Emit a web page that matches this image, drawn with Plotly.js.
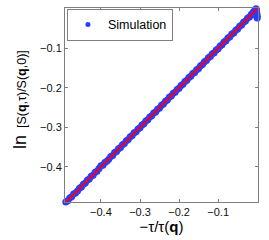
<!DOCTYPE html>
<html><head><meta charset="utf-8">
<script src="https://cdn.plot.ly/plotly-3.0.1.min.js"></script>
<style>html,body{margin:0;padding:0;background:#fff}#c{width:269px;height:240px}</style>
</head><body><div id="c"></div>
<script>
var simX = [-0.490,-0.485,-0.480,-0.475,-0.470,-0.465,-0.460,-0.455,-0.450,-0.445,-0.440,-0.435,-0.430,-0.425,-0.420,-0.415,-0.410,-0.405,-0.400,-0.395,-0.390,-0.385,-0.380,-0.375,-0.370,-0.365,-0.360,-0.355,-0.350,-0.345,-0.340,-0.335,-0.330,-0.325,-0.320,-0.315,-0.310,-0.305,-0.300,-0.295,-0.290,-0.285,-0.280,-0.275,-0.270,-0.265,-0.260,-0.255,-0.250,-0.245,-0.240,-0.235,-0.230,-0.225,-0.220,-0.215,-0.210,-0.205,-0.200,-0.195,-0.190,-0.185,-0.180,-0.175,-0.170,-0.165,-0.160,-0.155,-0.150,-0.145,-0.140,-0.135,-0.130,-0.125,-0.120,-0.115,-0.110,-0.105,-0.100,-0.095,-0.090,-0.085,-0.080,-0.075,-0.070,-0.065,-0.060,-0.055,-0.050,-0.045,-0.040,-0.035,-0.030,-0.025,-0.020,-0.015,-0.012,-0.010,-0.008,-0.006,-0.004,-0.003,-0.002,-0.001,0.000,-0.001,0.000];
var simY = [-0.489,-0.486,-0.479,-0.476,-0.469,-0.466,-0.461,-0.454,-0.451,-0.444,-0.441,-0.434,-0.431,-0.424,-0.421,-0.414,-0.411,-0.404,-0.397,-0.396,-0.389,-0.386,-0.381,-0.374,-0.371,-0.364,-0.361,-0.354,-0.351,-0.344,-0.341,-0.334,-0.331,-0.324,-0.321,-0.314,-0.311,-0.304,-0.301,-0.294,-0.291,-0.284,-0.281,-0.274,-0.271,-0.264,-0.261,-0.254,-0.251,-0.244,-0.241,-0.234,-0.231,-0.224,-0.221,-0.214,-0.211,-0.204,-0.201,-0.194,-0.191,-0.184,-0.181,-0.174,-0.171,-0.164,-0.161,-0.154,-0.151,-0.144,-0.141,-0.134,-0.131,-0.124,-0.121,-0.114,-0.111,-0.104,-0.101,-0.094,-0.091,-0.084,-0.081,-0.074,-0.071,-0.064,-0.061,-0.054,-0.051,-0.044,-0.041,-0.034,-0.031,-0.024,-0.021,-0.014,-0.015,-0.008,-0.011,-0.004,-0.006,0.000,-0.003,-0.012,-0.018,-0.020,-0.023];
var fitX = [-0.490, 0.000];
var fitY = [-0.490, 0.000];
var xTicks = [-0.4,-0.3,-0.2,-0.1];
var yTicks = [-0.4,-0.3,-0.2,-0.1];

var font = 'Liberation Sans, Arial, sans-serif';
var data = [
  {x: simX, y: simY, type: 'scatter', mode: 'markers', name: 'Simulation', showlegend: false,
   cliponaxis: false, marker: {color: '#2a3cff', size: 7}},
  {x: fitX, y: fitY, type: 'scatter', mode: 'lines', showlegend: false, cliponaxis: false,
   line: {color: '#ff0000', width: 2}},
  {x: [null], y: [null], type: 'scatter', mode: 'markers', name: 'Simulation',
   marker: {color: '#2a3cff', size: 5}}
];
var axisCommon = {
  showgrid: false, zeroline: false, showline: true, mirror: 'ticks',
  linecolor: '#7f7f7f', linewidth: 1, ticks: 'inside', ticklen: 3, tickcolor: '#7f7f7f',
  tickfont: {family: font, size: 11, color: '#111'}
};
var layout = {
  width: 269, height: 240,
  margin: {l: 65, r: 11, t: 8, b: 38},
  paper_bgcolor: '#fff', plot_bgcolor: '#fff',
  showlegend: true,
  legend: {x: 0.01, y: 0.995, xanchor: 'left', yanchor: 'top',
    bgcolor: '#fff', bordercolor: '#7f7f7f', borderwidth: 1,
    font: {family: font, size: 12.5, color: '#000'},
    itemwidth: 30, tracegroupgap: 0},
  xaxis: Object.assign({}, axisCommon, {
    range: [-0.492, 0.002], tickvals: xTicks,
    title: {text: '\u2212\u03c4/\u03c4(<b>q</b>)', font: {family: font, size: 15, color: '#000'}, standoff: 2}
  }),
  yaxis: Object.assign({}, axisCommon, {
    range: [-0.489, 0.002], tickvals: yTicks
  }),
  annotations: [{
    xref: 'paper', yref: 'paper', x: 0, y: 0.5, xanchor: 'center', yanchor: 'middle',
    xshift: -45, yshift: 5, textangle: -90, showarrow: false,
    text: '<span style="font-size:18px">ln</span>\u00a0\u00a0[S(<b>q</b>,\u03c4)/S(<b>q</b>,0)]',
    font: {family: font, size: 12.5, color: '#000'}
  }]
};
Plotly.newPlot('c', data, layout, {displayModeBar: false, staticPlot: true});
</script></body></html>
